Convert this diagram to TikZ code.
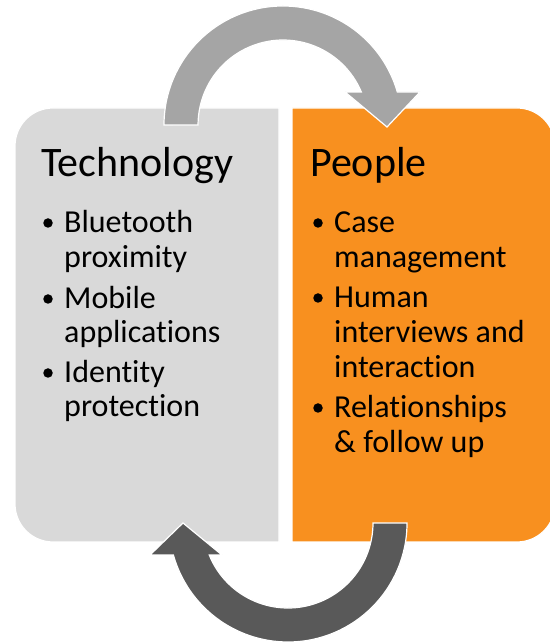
\documentclass[tikz,border=0pt]{standalone}
\usepackage{fontspec}
\setmainfont{Carlito}[Ligatures=CommonOff]
\definecolor{techgrey}{HTML}{D9D9D9}
\definecolor{peopleorange}{HTML}{F8901F}
\definecolor{lightarrow}{HTML}{A5A5A5}
\definecolor{darkarrow}{HTML}{595959}

\begin{document}
\begin{tikzpicture}[x=1pt,y=1pt,
		boxshape/.style={draw=white,line width=1.2pt},
		arrowshape/.style={draw=white,line width=1.2pt},
		heading/.style={anchor=base west,inner sep=0pt,font=\fontsize{42}{50}\selectfont},
		itemtext/.style={anchor=base west,inner sep=0pt,font=\fontsize{32}{36}\selectfont},
		dot/.style={circle,fill=black,inner sep=0pt,minimum size=9.5pt}]
		\useasboundingbox (0,0) rectangle (549,644);
		\fill[white] (0,0) rectangle (549,644);
		% the two boxes
		\path[boxshape,fill=techgrey] (279,102) -- (53,102) arc (270:180:38pt)
			-- (15,498) arc (180:90:38pt) -- (279,536) -- cycle;
		\path[boxshape,fill=peopleorange] (292,102) -- (517,102) arc (-90:0:38pt)
			-- (555,498) arc (0:90:38pt) -- (292,536) -- cycle;
		% the two curved arrows
		\path[arrowshape,fill=lightarrow] (164,519) arc (180:16.1:119pt)
			-- (420,552) -- (387,517) -- (345,552) -- (361.4,551.9)
			arc (22.8:180:85pt) -- cycle;
		\path[arrowshape,fill=darkarrow] (407,121) arc (0:-164.4:119pt)
			-- (150,89) -- (183,121) -- (222,89) -- (209.25,89.02)
			arc (-157.9:0:85pt) -- cycle;
		% texts
		\node[heading] (tech) at (41,467.3) {Technology};
		\foreach \yy/\txt [count=\i] in {411/Bluetooth,376/proximity,335/Mobile,
				301/applications,261/Identity,227/protection}
			\node[itemtext] (tech-\i) at (64,\yy) {\txt};
		\foreach \yy [count=\i] in {411,335,261}
			\node[dot] (techdot-\i) at (48,\yy+10) {};
		\node[heading] (people) at (310,467.3) {People};
		\foreach \yy/\txt [count=\i] in {411/Case,376/management,336/Human,
				301/interviews and,266/interaction,226/Relationships,191/\& follow up}
			\node[itemtext] (people-\i) at (334,\yy) {\txt};
		\foreach \yy [count=\i] in {411,336,226}
			\node[dot] (peopledot-\i) at (318,\yy+10) {};
	\end{tikzpicture}
\end{document}
